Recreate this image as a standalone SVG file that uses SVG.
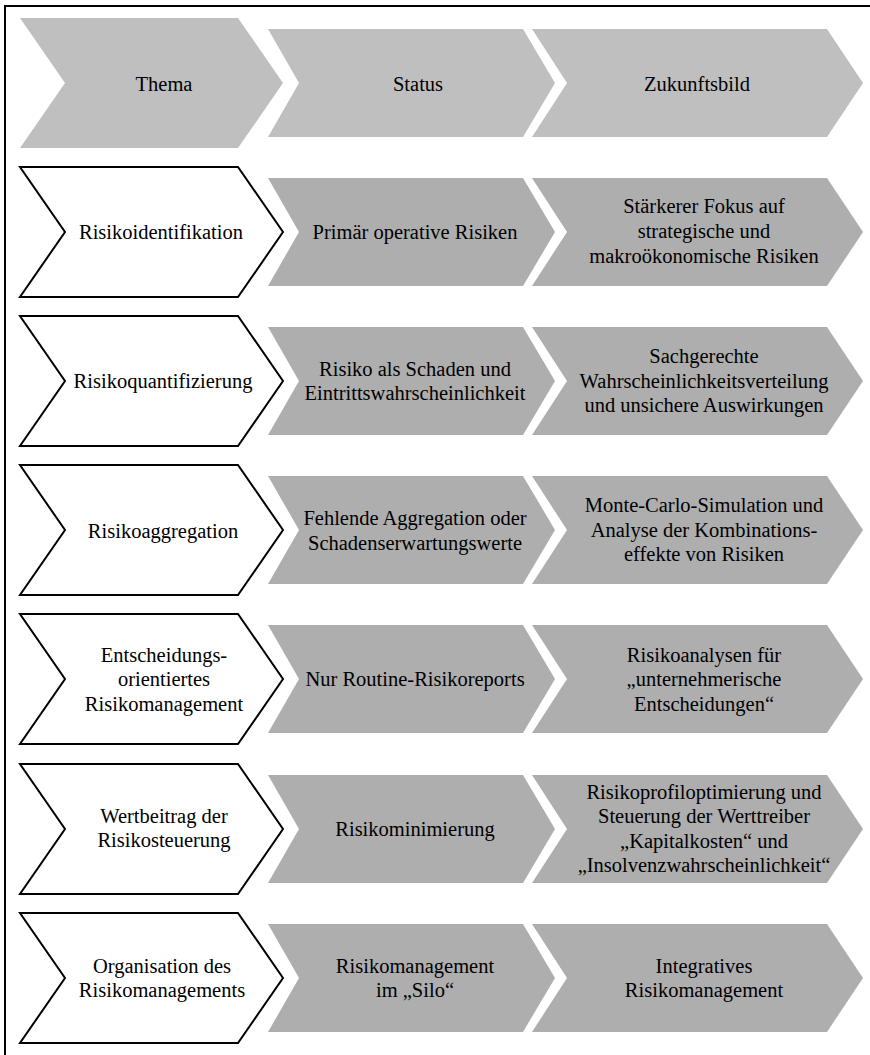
<svg xmlns="http://www.w3.org/2000/svg" width="870" height="1055" viewBox="0 0 870 1055" font-family="'Liberation Serif', 'Times New Roman', serif">
<style>
text{font-family:'Liberation Serif','Times New Roman',serif;font-size:20.5px;fill:#000;text-anchor:middle}
.hd{fill:#BFBFBF;stroke:none}
.th{fill:#FFFFFF;stroke:#000;stroke-width:2;stroke-linejoin:miter}
.gr{fill:#AEAEAE;stroke:none}
</style>
<defs>
<polygon id="c1" points="20,0 238,0 283,65 238,130 20,130 65,65"/>
<polygon id="c2" points="268,0 523,0 555,54 523,108 268,108 299,54"/>
<polygon id="c3" points="532,0 827,0 863,54 827,108 532,108 567,54"/>
</defs>
<rect x="0" y="0" width="870" height="1055" fill="#FFFFFF"/>
<rect x="5" y="6" width="900" height="1100" fill="none" stroke="#000" stroke-width="2"/>
<g id="header">
<g id="h-thema"><use href="#c1" y="18" class="hd"/><text x="164" y="91">Thema</text></g>
<g id="h-status"><use href="#c2" y="29" class="hd"/><text x="418" y="91">Status</text></g>
<g id="h-zukunft"><use href="#c3" y="29" class="hd"/><text x="697" y="91">Zukunftsbild</text></g>
</g>
<g id="row1">
<g id="r1-thema"><use href="#c1" y="167" class="th"/><text x="161" y="239">Risikoidentifikation</text></g>
<g id="r1-status"><use href="#c2" y="178" class="gr"/><text x="415" y="239">Primär operative Risiken</text></g>
<g id="r1-zukunft"><use href="#c3" y="178" class="gr"/><text x="704" y="213">Stärkerer Fokus auf</text><text x="704" y="238">strategische und</text><text x="704" y="263">makroökonomische Risiken</text></g>
</g>
<g id="row2">
<g id="r2-thema"><use href="#c1" y="316" class="th"/><text x="163" y="388">Risikoquantifizierung</text></g>
<g id="r2-status"><use href="#c2" y="327" class="gr"/><text x="415" y="376">Risiko als Schaden und</text><text x="415" y="400">Eintrittswahrscheinlichkeit</text></g>
<g id="r2-zukunft"><use href="#c3" y="327" class="gr"/><text x="704" y="363">Sachgerechte</text><text x="704" y="388">Wahrscheinlichkeitsverteilung</text><text x="704" y="412">und unsichere Auswirkungen</text></g>
</g>
<g id="row3">
<g id="r3-thema"><use href="#c1" y="465" class="th"/><text x="163" y="538">Risikoaggregation</text></g>
<g id="r3-status"><use href="#c2" y="476" class="gr"/><text x="415" y="525">Fehlende Aggregation oder</text><text x="415" y="550">Schadenserwartungswerte</text></g>
<g id="r3-zukunft"><use href="#c3" y="476" class="gr"/><text x="704" y="512">Monte-Carlo-Simulation und</text><text x="704" y="537">Analyse der Kombinations-</text><text x="704" y="561">effekte von Risiken</text></g>
</g>
<g id="row4">
<g id="r4-thema"><use href="#c1" y="614" class="th"/><text x="164" y="662">Entscheidungs-</text><text x="164" y="686">orientiertes</text><text x="164" y="711">Risikomanagement</text></g>
<g id="r4-status"><use href="#c2" y="625" class="gr"/><text x="415" y="686">Nur Routine-Risikoreports</text></g>
<g id="r4-zukunft"><use href="#c3" y="625" class="gr"/><text x="704" y="662">Risikoanalysen für</text><text x="704" y="686">„unternehmerische</text><text x="704" y="711">Entscheidungen“</text></g>
</g>
<g id="row5">
<g id="r5-thema"><use href="#c1" y="764" class="th"/><text x="164" y="823">Wertbeitrag der</text><text x="164" y="847">Risikosteuerung</text></g>
<g id="r5-status"><use href="#c2" y="775" class="gr"/><text x="415" y="836">Risikominimierung</text></g>
<g id="r5-zukunft"><use href="#c3" y="775" class="gr"/><text x="704" y="799">Risikoprofiloptimierung und</text><text x="704" y="823">Steuerung der Werttreiber</text><text x="704" y="848">„Kapitalkosten“ und</text><text x="704" y="872">„Insolvenzwahrscheinlichkeit“</text></g>
</g>
<g id="row6">
<g id="r6-thema"><use href="#c1" y="913" class="th"/><text x="162" y="973">Organisation des</text><text x="162" y="997">Risikomanagements</text></g>
<g id="r6-status"><use href="#c2" y="924" class="gr"/><text x="415" y="973">Risikomanagement</text><text x="415" y="997">im „Silo“</text></g>
<g id="r6-zukunft"><use href="#c3" y="924" class="gr"/><text x="704" y="973">Integratives</text><text x="704" y="997">Risikomanagement</text></g>
</g>
<g id="connectors"></g>
</svg>
